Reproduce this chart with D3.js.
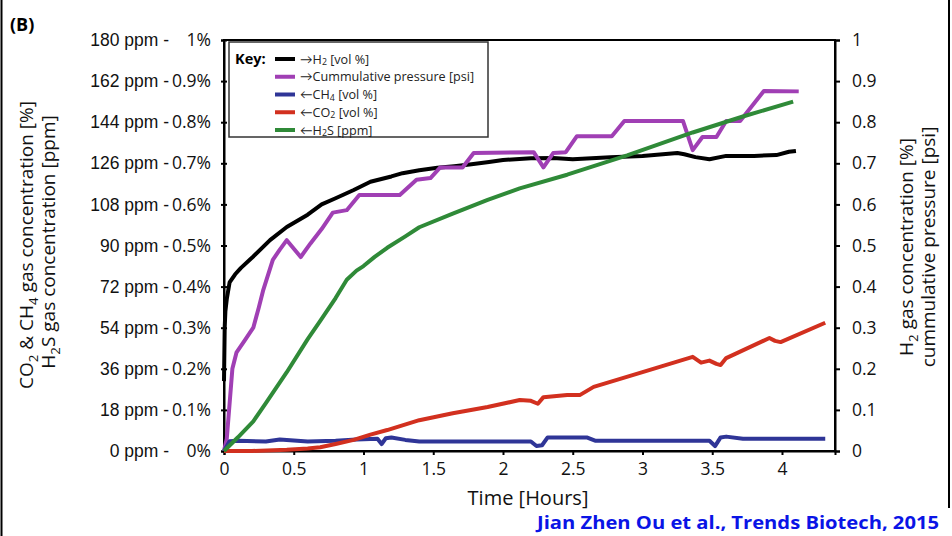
<!DOCTYPE html>
<html lang="en">
<head>
<meta charset="UTF-8">
<title>Gas profile (B)</title>
<script src="https://d3js.org/d3.v7.min.js"></script>
<style>
    body { margin: 0; background: #fff; }
    svg { display: block; font-family: "Open Sans", Lato, sans-serif; }
</style>
</head>
<body>
<div id="chart"></div>
<script>
// ---- data ----
const pctTicks = [0, 0.1, 0.2, 0.3, 0.4, 0.5, 0.6, 0.7, 0.8, 0.9, 1];
const pctLabels = ["0%", "0.1%", "0.2%", "0.3%", "0.4%", "0.5%", "0.6%", "0.7%", "0.8%", "0.9%", "1%"];
const ppmLabels = ["0 ppm -", "18 ppm -", "36 ppm -", "54 ppm -", "72 ppm -", "90 ppm -", "108 ppm -", "126 ppm -", "144 ppm -", "162 ppm -", "180 ppm -"];
const rightLabels = ["0", "0.1", "0.2", "0.3", "0.4", "0.5", "0.6", "0.7", "0.8", "0.9", "1"];
const timeTicks = [0, 0.5, 1, 1.5, 2, 2.5, 3, 3.5, 4];

// H2 [vol %] (right axis)
const h2Time = [0, 0.005, 0.01, 0.02, 0.04, 0.08, 0.12, 0.2, 0.33, 0.45, 0.6, 0.7, 0.8, 0.93, 1.05, 1.2, 1.28, 1.4, 1.53, 1.65, 1.76, 1.9, 2.0, 2.2, 2.36, 2.5, 2.77, 3.0, 3.25, 3.3, 3.38, 3.48, 3.6, 3.8, 3.96, 4.05, 4.1];
const h2Vals = [0.17, 0.3, 0.34, 0.37, 0.41, 0.43, 0.445, 0.47, 0.513, 0.545, 0.575, 0.6, 0.615, 0.635, 0.655, 0.668, 0.676, 0.683, 0.689, 0.693, 0.697, 0.703, 0.708, 0.712, 0.713, 0.71, 0.715, 0.718, 0.725, 0.722, 0.715, 0.71, 0.718, 0.718, 0.72, 0.728, 0.73];

// cumulative pressure [psi] (right axis)
const pTime = [0, 0.02, 0.06, 0.09, 0.15, 0.21, 0.25, 0.28, 0.35, 0.4, 0.45, 0.55, 0.62, 0.7, 0.78, 0.88, 0.97, 1.26, 1.38, 1.48, 1.55, 1.71, 1.79, 2.22, 2.29, 2.36, 2.45, 2.53, 2.78, 2.87, 3.29, 3.36, 3.43, 3.53, 3.6, 3.7, 3.87, 4.12];
const pVals = [0, 0.03, 0.2, 0.24, 0.27, 0.3, 0.35, 0.39, 0.465, 0.49, 0.513, 0.472, 0.505, 0.54, 0.58, 0.586, 0.623, 0.623, 0.66, 0.664, 0.69, 0.69, 0.725, 0.727, 0.69, 0.725, 0.727, 0.766, 0.766, 0.803, 0.803, 0.732, 0.764, 0.764, 0.803, 0.803, 0.876, 0.875];

// CH4 [vol %] (left axis)
const ch4Time = [0, 0.04, 0.1, 0.3, 0.4, 0.6, 0.8, 0.95, 1.1, 1.13, 1.16, 1.2, 1.3, 1.4, 2.2, 2.24, 2.28, 2.32, 2.6, 2.66, 3.48, 3.52, 3.56, 3.6, 3.72, 4.31];
const ch4Vals = [0, 0.024, 0.025, 0.023, 0.028, 0.023, 0.025, 0.028, 0.03, 0.017, 0.031, 0.033, 0.027, 0.023, 0.023, 0.012, 0.014, 0.033, 0.033, 0.025, 0.025, 0.012, 0.033, 0.035, 0.03, 0.03];

// CO2 [vol %] (left axis)
const co2Time = [0, 0.2, 0.45, 0.6, 0.69, 0.8, 0.93, 1.05, 1.17, 1.4, 1.64, 1.89, 2.12, 2.2, 2.25, 2.29, 2.46, 2.55, 2.65, 3.0, 3.36, 3.42, 3.48, 3.53, 3.56, 3.6, 3.91, 3.95, 3.99, 4.31];
const co2Vals = [0, 0, 0.003, 0.006, 0.009, 0.017, 0.027, 0.04, 0.051, 0.075, 0.092, 0.107, 0.124, 0.122, 0.115, 0.131, 0.136, 0.136, 0.156, 0.192, 0.229, 0.215, 0.22, 0.212, 0.209, 0.226, 0.275, 0.268, 0.265, 0.312];

// H2S [ppm] (left axis, ppm side)
const h2sTime = [0, 0.1, 0.21, 0.3, 0.45, 0.6, 0.69, 0.8, 0.88, 0.95, 1.0, 1.08, 1.17, 1.3, 1.4, 1.64, 1.89, 2.12, 2.46, 2.89, 3.36, 3.72, 4.08];
const h2sVals = [0, 6, 13, 21, 34.5, 49, 57, 67, 75, 79, 81, 85, 89, 94, 98, 104, 110, 115, 121, 129.5, 139.5, 146.5, 153];

// ---- layout ----
const width = 952, height = 536;
const margin = { left: 224, right: 835, top: 40, bottom: 451 };

const svg = d3.select("#chart").append("svg")
    .attr("width", width)
    .attr("height", height);

const x = d3.scaleLinear().domain([0, 4.38]).range([margin.left, margin.right]);
const yPct = d3.scaleLinear().domain([0, 1]).range([margin.bottom, margin.top]);
const yPpm = d3.scaleLinear().domain([0, 180]).range([margin.bottom, margin.top]);

// page border lines
svg.append("line").attr("x1", 1.5).attr("x2", 1.5).attr("y1", 0).attr("y2", height)
    .attr("stroke", "#000").attr("stroke-width", 2);
svg.append("line").attr("x1", 949).attr("x2", 949).attr("y1", 0).attr("y2", 508)
    .attr("stroke", "#000").attr("stroke-width", 2);

svg.append("text").attr("x", 10).attr("y", 31)
    .attr("font-size", 18).attr("font-weight", "bold").text("(B)");

// plot frame
svg.append("rect")
    .attr("x", margin.left).attr("y", margin.top)
    .attr("width", margin.right - margin.left).attr("height", margin.bottom - margin.top)
    .attr("fill", "none").attr("stroke", "#000").attr("stroke-width", 2);

const tickFont = 17.5;

// left axis (% and ppm share the same positions)
const leftAxis = svg.append("g")
    .attr("transform", `translate(${margin.left},0)`)
    .call(d3.axisLeft(yPct).tickValues(pctTicks).tickFormat((d, i) => pctLabels[i]).tickSize(3).tickPadding(10));
leftAxis.select(".domain").attr("stroke-width", 2);
leftAxis.selectAll(".tick line").attr("x1", -3).attr("x2", 3).attr("stroke-width", 2);
leftAxis.selectAll(".tick text").attr("font-size", tickFont).attr("font-family", "'Open Sans', sans-serif").attr("fill", "#111");
leftAxis.selectAll(".tick").append("text")
    .attr("x", -55).attr("dy", "0.32em")
    .attr("text-anchor", "end")
    .attr("font-size", tickFont).attr("fill", "#111")
    .text((d, i) => ppmLabels[i]);

// right axis
const rightAxis = svg.append("g")
    .attr("transform", `translate(${margin.right},0)`)
    .call(d3.axisRight(yPct).tickValues(pctTicks).tickFormat((d, i) => rightLabels[i]).tickSize(5).tickPadding(12));
rightAxis.select(".domain").attr("stroke-width", 2);
rightAxis.selectAll(".tick line").attr("stroke-width", 2);
rightAxis.selectAll(".tick text").attr("font-size", tickFont).attr("font-family", "'Open Sans', sans-serif").attr("fill", "#111");

// bottom axis
const xAxis = svg.append("g")
    .attr("transform", `translate(0,${margin.bottom})`)
    .call(d3.axisBottom(x).tickValues(timeTicks).tickFormat(d3.format("~g")).tickSize(4).tickPadding(8));
xAxis.select(".domain").attr("stroke-width", 2);
xAxis.selectAll(".tick line").attr("stroke-width", 2);
xAxis.selectAll(".tick text").attr("font-size", tickFont).attr("font-family", "'Open Sans', sans-serif").attr("fill", "#111");

// axis titles
svg.append("text")
    .attr("x", 528).attr("y", 505)
    .attr("text-anchor", "middle").attr("font-size", 20).attr("fill", "#111")
    .text("Time [Hours]");

// text with subscripts: parts = [[string, isSub], ...]
function subTitle(g, parts, shift) {
    let down = false;
    parts.forEach(p => {
        const t = g.append("tspan").text(p[0]);
        if (p[1]) {
            t.attr("dy", shift).attr("font-size", "0.7em");
            down = true;
        } else if (down) {
            t.attr("dy", -shift);
            down = false;
        }
    });
}

const lt1 = svg.append("text")
    .attr("transform", "translate(33,245) rotate(-90)")
    .attr("text-anchor", "middle").attr("font-size", 19).attr("fill", "#111");
subTitle(lt1, [["CO"], ["2", true], [" & CH"], ["4", true], [" gas concentration [%]"]], 5);
const lt2 = svg.append("text")
    .attr("transform", "translate(55,242) rotate(-90)")
    .attr("text-anchor", "middle").attr("font-size", 19).attr("fill", "#111");
subTitle(lt2, [["H"], ["2", true], ["S gas concentration [ppm]"]], 5);

const rt1 = svg.append("text")
    .attr("transform", "translate(913,247) rotate(-90)")
    .attr("text-anchor", "middle").attr("font-size", 19).attr("fill", "#111");
subTitle(rt1, [["H"], ["2", true], [" gas concentration [%]"]], 5);
const rt2 = svg.append("text")
    .attr("transform", "translate(935,247) rotate(-90)")
    .attr("text-anchor", "middle").attr("font-size", 19).attr("fill", "#111");
subTitle(rt2, [["cummulative pressure [psi]"]], 5);

// series
const zip = (ts, vs) => ts.map((t, i) => [t, vs[i]]);
const series = [
    { name: "H2", color: "#000000", data: zip(h2Time, h2Vals), y: yPct },
    { name: "pressure", color: "#a03fb4", data: zip(pTime, pVals), y: yPct },
    { name: "CH4", color: "#2f3597", data: zip(ch4Time, ch4Vals), y: yPct },
    { name: "CO2", color: "#d2301f", data: zip(co2Time, co2Vals), y: yPct },
    { name: "H2S", color: "#2f8a38", data: zip(h2sTime, h2sVals), y: yPpm }
];

const plot = svg.append("g");
series.forEach(s => {
    const line = d3.line().x(d => x(d[0])).y(d => s.y(d[1]));
    plot.append("path")
        .datum(s.data)
        .attr("d", line)
        .attr("fill", "none")
        .attr("stroke", s.color)
        .attr("stroke-width", 4)
        .attr("stroke-linejoin", "round");
});

// legend
const legend = svg.append("g");
legend.append("rect")
    .attr("x", 229).attr("y", 42).attr("width", 259).attr("height", 95)
    .attr("fill", "#fff").attr("stroke", "#333").attr("stroke-width", 1.5);
legend.append("text").attr("x", 235).attr("y", 64)
    .attr("font-size", 14.5).attr("font-weight", "bold").text("Key:");

const legendItems = [
    { color: "#000000", parts: [["\u2192H"], ["2", true], [" [vol %]"]] },
    { color: "#a03fb4", parts: [["\u2192Cummulative pressure [psi]"]] },
    { color: "#2f3597", parts: [["\u2190CH"], ["4", true], [" [vol %]"]] },
    { color: "#d2301f", parts: [["\u2190CO"], ["2", true], [" [vol %]"]] },
    { color: "#2f8a38", parts: [["\u2190H"], ["2", true], ["S [ppm]"]] }
];
const rowY = d3.scalePoint().domain(d3.range(legendItems.length)).range([59, 130]);
legendItems.forEach((it, i) => {
    const yy = rowY(i);
    legend.append("line")
        .attr("x1", 275).attr("x2", 295).attr("y1", yy).attr("y2", yy)
        .attr("stroke", it.color).attr("stroke-width", 4);
    const t = legend.append("text")
        .attr("x", 300).attr("y", yy + 4.5)
        .attr("font-size", 12.6).attr("fill", "#222");
    subTitle(t, it.parts, 1.5);
});

// citation
svg.append("text")
    .attr("x", 537).attr("y", 529)
    .attr("font-size", 18).attr("font-weight", "bold").attr("fill", "#0a14e6")
    .attr("textLength", 402).attr("lengthAdjust", "spacingAndGlyphs")
    .text("Jian Zhen Ou et al., Trends Biotech, 2015");
</script>
</body>
</html>
